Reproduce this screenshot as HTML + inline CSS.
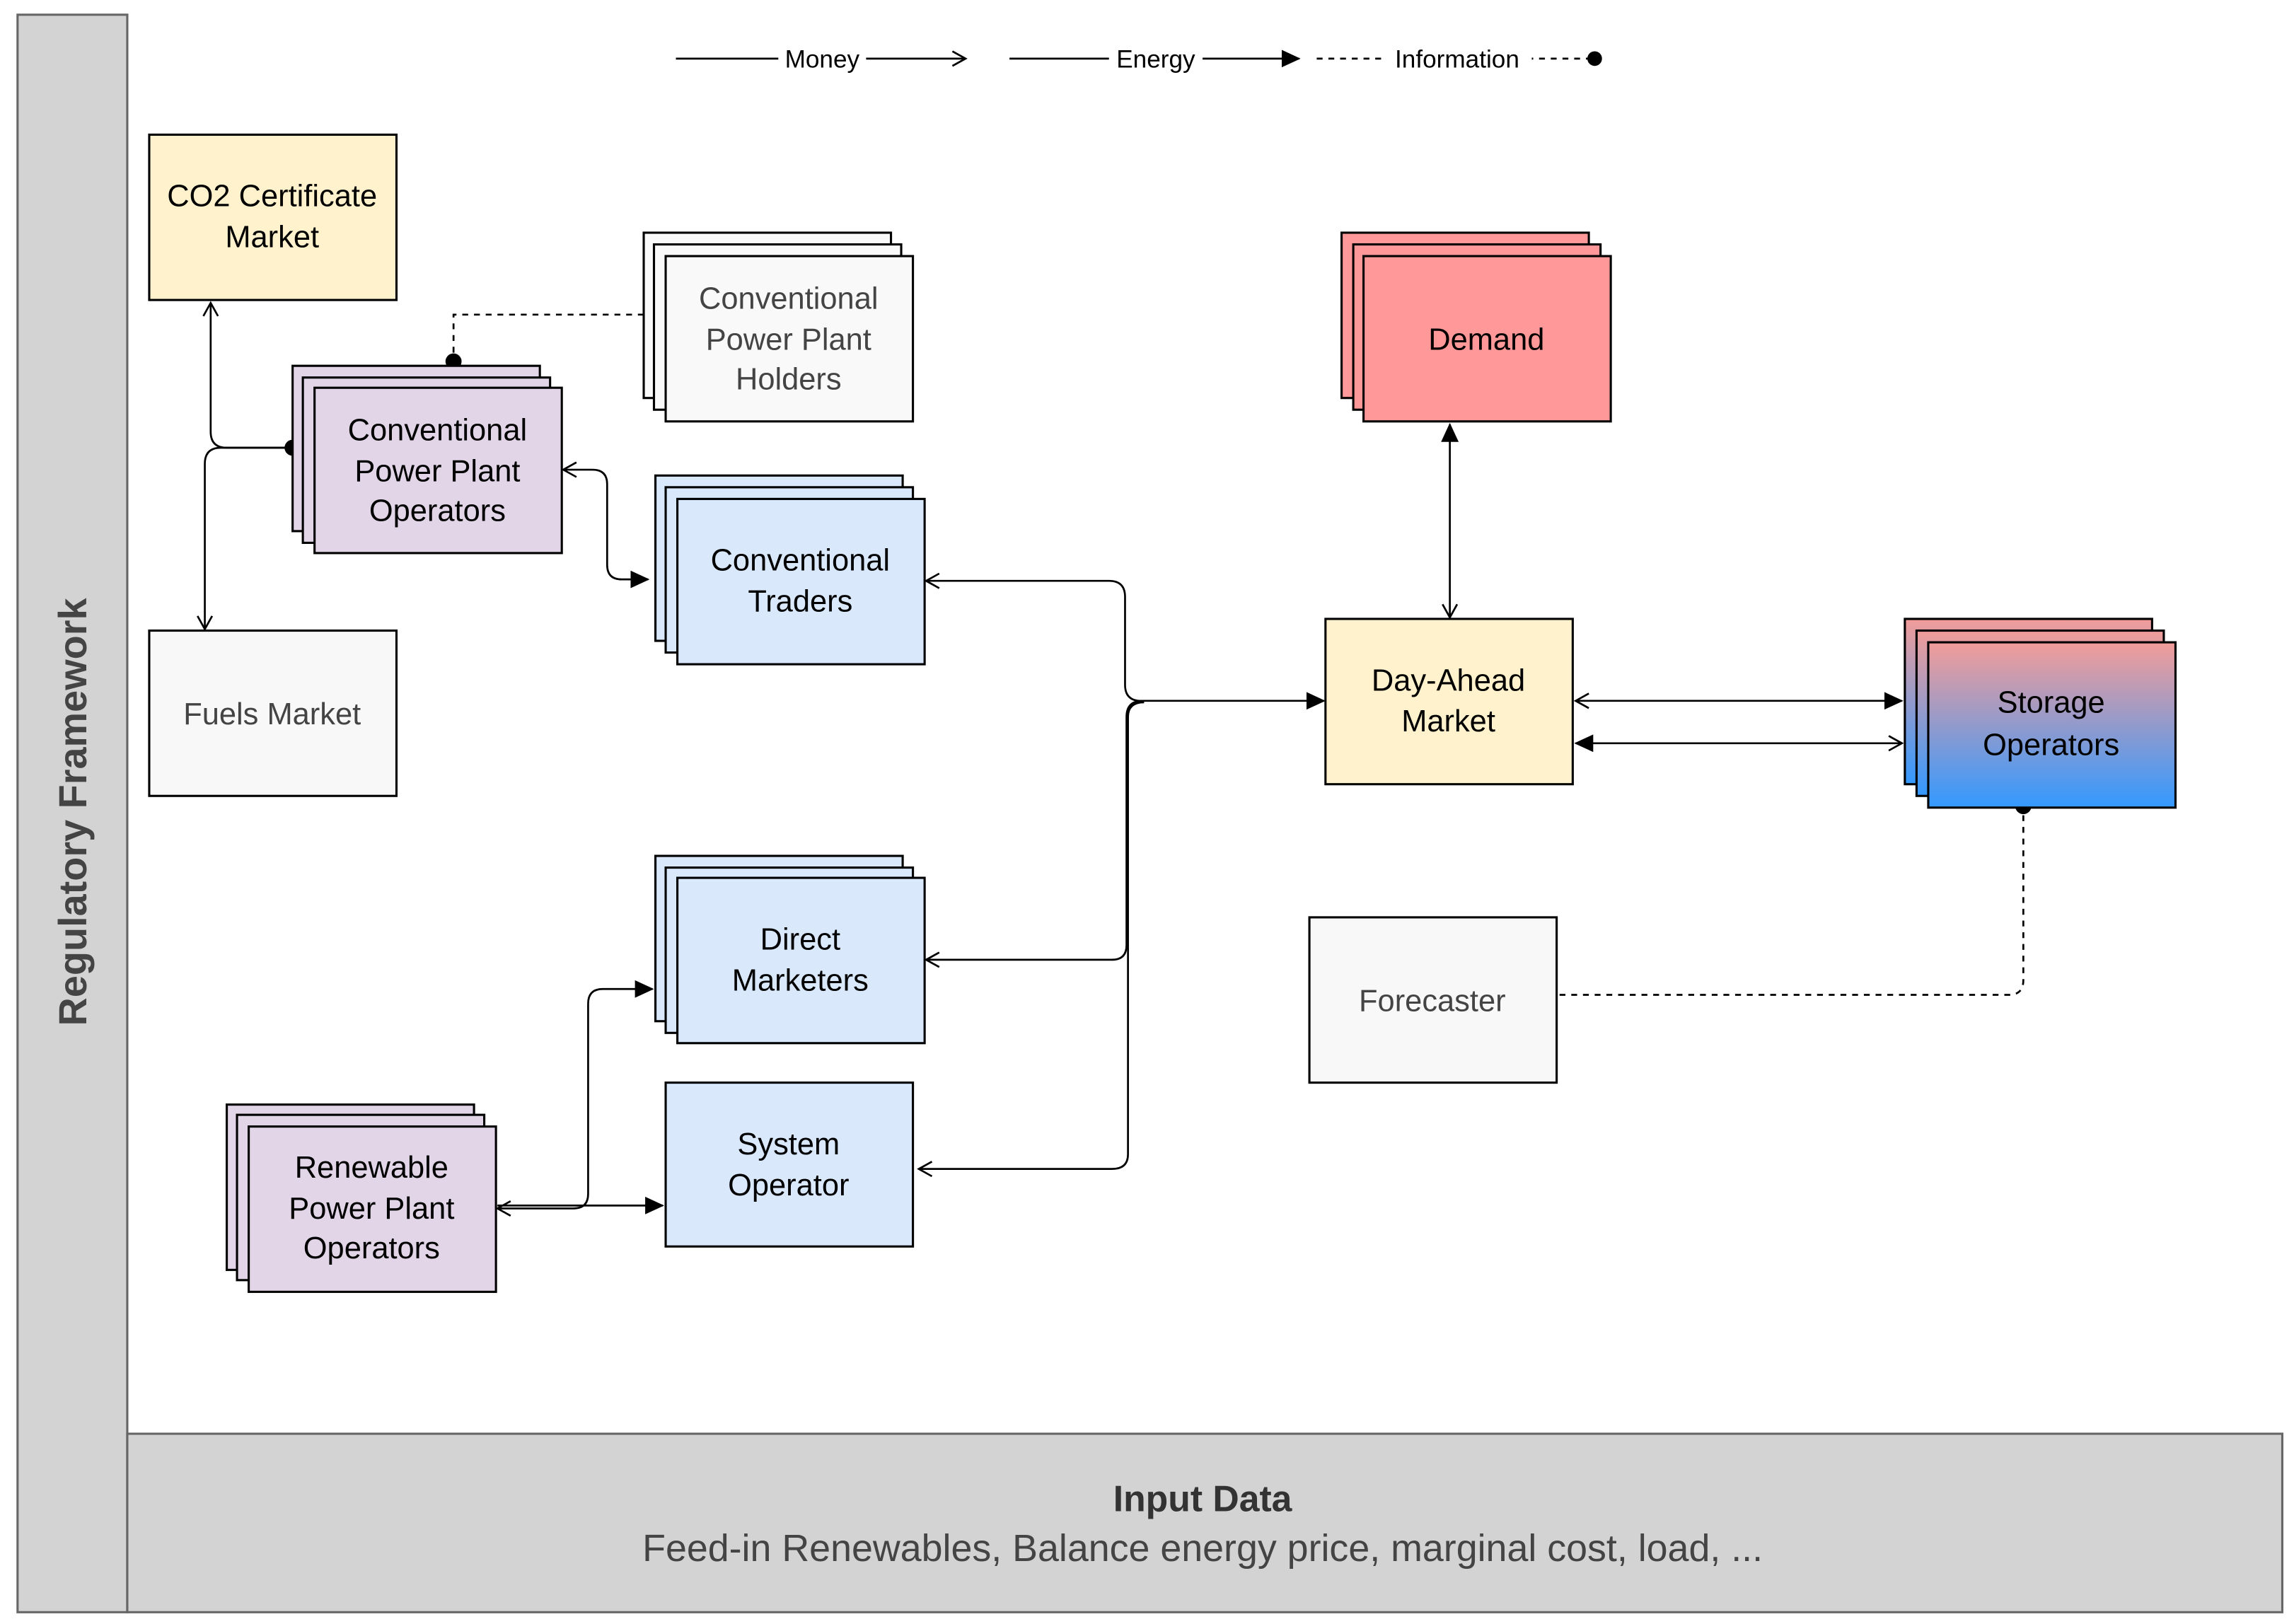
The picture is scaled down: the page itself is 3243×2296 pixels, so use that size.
<!DOCTYPE html>
<html><head><meta charset="utf-8"><style>
html,body{margin:0;padding:0;background:#fff}
svg{display:block}
text{font-family:"Liberation Sans",Arial,sans-serif}
</style></head><body>
<svg width="3243" height="2296" viewBox="0 0 1568 1110" xmlns="http://www.w3.org/2000/svg">
<defs>
<marker id="open" markerWidth="12" markerHeight="12" refX="10" refY="6" orient="auto" markerUnits="userSpaceOnUse"><path d="M1,1 L10,6 L1,11" fill="none" stroke="#000" stroke-width="1.3"/></marker>
<marker id="fill" markerWidth="14" markerHeight="12" refX="12" refY="6" orient="auto" markerUnits="userSpaceOnUse"><path d="M0,0 L13,6 L0,12 Z" fill="#000"/></marker>
<marker id="openS" markerWidth="12" markerHeight="12" refX="2" refY="6" orient="auto" markerUnits="userSpaceOnUse"><path d="M11,1 L2,6 L11,11" fill="none" stroke="#000" stroke-width="1.3"/></marker>
<marker id="fillS" markerWidth="14" markerHeight="12" refX="1" refY="6" orient="auto" markerUnits="userSpaceOnUse"><path d="M13,0 L0,6 L13,12 Z" fill="#000"/></marker>
<linearGradient id="sg" x1="0" y1="0" x2="0" y2="1"><stop offset="0" stop-color="#f19c99"/><stop offset="1" stop-color="#3399ff"/></linearGradient>
</defs>
<rect x="12" y="10" width="75" height="1092" fill="#d3d3d3" stroke="#666" stroke-width="1.5"/>
<text transform="translate(59,555) rotate(-90)" text-anchor="middle" font-size="27" font-weight="bold" fill="#444">Regulatory Framework</text>
<rect x="87" y="980" width="1473" height="122" fill="#d3d3d3" stroke="#666" stroke-width="1.5"/>
<text x="822" y="1033" text-anchor="middle" font-size="25" font-weight="bold" fill="#333">Input Data</text>
<text x="822" y="1067" text-anchor="middle" font-size="26" fill="#444">Feed-in Renewables, Balance energy price, marginal cost, load, ...</text>
<line x1="462" y1="40" x2="660" y2="40" stroke="#000" stroke-width="1.3" marker-end="url(#open)"/>
<rect x="532" y="31" width="60" height="18" fill="#fff"/><text x="562" y="46" text-anchor="middle" font-size="17">Money</text>
<line x1="690" y1="40" x2="888" y2="40" stroke="#000" stroke-width="1.3" marker-end="url(#fill)"/>
<rect x="758" y="31" width="64" height="18" fill="#fff"/><text x="790" y="46" text-anchor="middle" font-size="17">Energy</text>
<line x1="900" y1="40" x2="1088" y2="40" stroke="#000" stroke-width="1.3" stroke-dasharray="4,4"/>
<circle cx="1090" cy="40" r="5" fill="#000"/>
<rect x="945" y="31" width="102" height="18" fill="#fff"/><text x="996" y="46" text-anchor="middle" font-size="17">Information</text>
<g fill="none" stroke="#000" stroke-width="1.3">
<path d="M440,215 L310,215 L310,247" stroke-dasharray="4,4"/>
<path d="M200,306 L155,306 Q144,306 144,295 L144,207" marker-end="url(#open)"/>
<path d="M200,306 L151,306 Q140,306 140,317 L140,430" marker-end="url(#open)"/>
<path d="M385,321 L405,321 Q415,321 415,331 L415,386 Q415,396 425,396 L443,396" marker-start="url(#openS)" marker-end="url(#fill)"/>
<path d="M633,397 L758,397 Q769,397 769,408 L769,468 Q769,479 780,479 L905,479" marker-start="url(#openS)" marker-end="url(#fill)"/>
<path d="M633,656 L760,656 Q770,656 770,646 L770,490 Q770,479 781,479"  marker-start="url(#openS)"/>
<path d="M628,799 L760,799 Q771,799 771,789 L771,490 Q771,480 782,480" marker-start="url(#openS)"/>
<path d="M991,290 L991,422" marker-start="url(#fillS)" marker-end="url(#open)"/>
<path d="M1077,479 L1300,479" marker-start="url(#openS)" marker-end="url(#fill)"/>
<path d="M1077,508 L1300,508" marker-start="url(#fillS)" marker-end="url(#open)"/>
<path d="M1066,680 L1373,680 Q1383,680 1383,670 L1383,553" stroke-dasharray="4,4"/>
<path d="M340,826 L392,826 Q402,826 402,816 L402,686 Q402,676 412,676 L446,676" marker-start="url(#openS)" marker-end="url(#fill)"/>
<path d="M340,824 L453,824" marker-end="url(#fill)"/>
</g>
<circle cx="310" cy="247" r="5.5"/><circle cx="200" cy="306" r="5.5"/><circle cx="1383" cy="551" r="5.5"/>
<g stroke="#000" stroke-width="1.5">
<rect x="102" y="92" width="169" height="113" fill="#fff2cc"/>
<g fill="#f9f9f9"><rect x="440" y="159" width="169" height="113"/><rect x="447" y="167" width="169" height="113"/><rect x="455" y="175" width="169" height="113"/></g>
<g fill="#e1d5e7"><rect x="200" y="250" width="169" height="113"/><rect x="207" y="258" width="169" height="113"/><rect x="215" y="265" width="169" height="113"/></g>
<rect x="102" y="431" width="169" height="113" fill="#f8f8f8"/>
<g fill="#dae8fc"><rect x="448" y="325" width="169" height="113"/><rect x="455" y="333" width="169" height="113"/><rect x="463" y="341" width="169" height="113"/></g>
<g fill="#ff9999"><rect x="917" y="159" width="169" height="113"/><rect x="925" y="167" width="169" height="113"/><rect x="932" y="175" width="169" height="113"/></g>
<rect x="906" y="423" width="169" height="113" fill="#fff2cc"/>
<g fill="url(#sg)"><rect x="1302" y="423" width="169" height="113"/><rect x="1310" y="431" width="169" height="113"/><rect x="1318" y="439" width="169" height="113"/></g>
<rect x="895" y="627" width="169" height="113" fill="#f8f8f8"/>
<g fill="#dae8fc"><rect x="448" y="585" width="169" height="113"/><rect x="455" y="593" width="169" height="113"/><rect x="463" y="600" width="169" height="113"/></g>
<rect x="455" y="740" width="169" height="112" fill="#dae8fc"/>
<g fill="#e1d5e7"><rect x="155" y="755" width="169" height="113"/><rect x="162" y="762" width="169" height="113"/><rect x="170" y="770" width="169" height="113"/></g>
</g>
<g font-size="21" text-anchor="middle" fill="#000">
<text x="186" y="141">CO2 Certificate</text><text x="186" y="169">Market</text>
<g fill="#444"><text x="539" y="211">Conventional</text><text x="539" y="239">Power Plant</text><text x="539" y="266">Holders</text></g>
<text x="299" y="301">Conventional</text><text x="299" y="329">Power Plant</text><text x="299" y="356">Operators</text>
<text x="186" y="495" fill="#444">Fuels Market</text>
<text x="547" y="390">Conventional</text><text x="547" y="418">Traders</text>
<text x="1016" y="239">Demand</text>
<text x="990" y="472">Day-Ahead</text><text x="990" y="500">Market</text>
<text x="1402" y="487">Storage</text><text x="1402" y="516">Operators</text>
<text x="979" y="691" fill="#444">Forecaster</text>
<text x="547" y="649">Direct</text><text x="547" y="677">Marketers</text>
<text x="539" y="789">System</text><text x="539" y="817">Operator</text>
<text x="254" y="805">Renewable</text><text x="254" y="833">Power Plant</text><text x="254" y="860">Operators</text>
</g>
</svg>
</body></html>
